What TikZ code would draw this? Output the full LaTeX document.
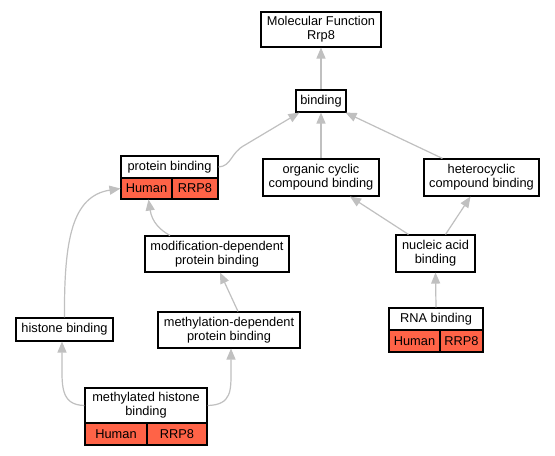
\documentclass[tikz,border=0pt]{standalone}
\usepackage{fontspec}
\setmainfont{Liberation Sans}
\usetikzlibrary{arrows.meta}
\definecolor{edgegray}{HTML}{C0C0C0}
\definecolor{hit}{HTML}{FF6347}
\tikzset{
  box/.style={draw=black, line width=1.1bp, fill=white, inner sep=0pt, align=center,
    font=\fontsize{12.8bp}{13.8bp}\selectfont},
  cell/.style={box, fill=hit},
  edge/.style={draw=edgegray, line width=1.2bp, -{Triangle[length=11bp,width=9bp]}},
}
\begin{document}
\begin{tikzpicture}[x=1bp,y=-1bp]
\useasboundingbox[fill=white] (0,0) rectangle (555,456);
% nodes
\node[box, minimum width=120bp, minimum height=35bp] (mf) at (321,29.5) {Molecular Function\\Rrp8};
\node[box, minimum width=50bp, minimum height=22bp] (bind) at (321,101) {binding};
\node[box, minimum width=97bp, minimum height=22bp] (pb) at (169.5,167) {protein binding};
\node[cell, minimum width=51bp, minimum height=21bp] (pbH) at (146.5,188.5) {Human};
\node[cell, minimum width=46bp, minimum height=21bp] (pbR) at (195,188.5) {RRP8};
\node[box, minimum width=116bp, minimum height=37bp] (org) at (321,177.5) {organic cyclic\\compound binding};
\node[box, minimum width=115bp, minimum height=37bp] (het) at (481.5,177.5) {heterocyclic\\compound binding};
\node[box, minimum width=79bp, minimum height=37bp] (nuc) at (435.5,253.5) {nucleic acid\\binding};
\node[box, minimum width=94bp, minimum height=22bp] (rna) at (436,319) {RNA binding};
\node[cell, minimum width=51bp, minimum height=22bp] (rnaH) at (414.5,341) {Human};
\node[cell, minimum width=43bp, minimum height=22bp] (rnaR) at (461.5,341) {RRP8};
\node[box, minimum width=144bp, minimum height=36bp] (mod) at (217,254) {modification-dependent\\protein binding};
\node[box, minimum width=142bp, minimum height=36bp] (meth) at (229,330) {methylation-dependent\\protein binding};
\node[box, minimum width=97bp, minimum height=23bp] (hist) at (64.5,329.5) {histone binding};
\node[box, minimum width=122bp, minimum height=35bp] (mh) at (146,405.5) {methylated histone\\binding};
\node[cell, minimum width=62bp, minimum height=22bp] (mhH) at (116,434) {Human};
\node[cell, minimum width=60bp, minimum height=22bp] (mhR) at (177,434) {RRP8};
% edges
\draw[edge] (bind.north) -- (mf.south);
\draw[edge] (pb.east) .. controls (232,166) and (230,153) .. (245,145) -- ([xshift=4bp]bind.south west);
\draw[edge] (org.north) -- (bind.south);
\draw[edge] ([xshift=-39bp]het.north) -- ([xshift=-1bp]bind.south east);
\draw[edge] ([xshift=-27bp]nuc.north) -- ([xshift=29bp]org.south);
\draw[edge] ([xshift=10bp]nuc.north) -- ([xshift=-11bp]het.south);
\draw[edge] (rna.north) -- (nuc.south);
\draw[edge] ([xshift=-47bp]mod.north) .. controls (160,230) and (152,222) .. ([xshift=2bp]pbH.south);
\draw[edge] (hist.north) .. controls (64,240) and (72,196) .. (pbH.west);
\draw[edge] ([xshift=9bp]meth.north) -- ([xshift=3bp]mod.south);
\draw[edge] (mh.west) .. controls (60,405) and (62,385) .. (62,360) -- ([xshift=-2.5bp]hist.south);
\draw[edge] (mh.east) .. controls (232,405) and (231,390) .. (231,370) -- ([xshift=2bp]meth.south);
\end{tikzpicture}
\end{document}
